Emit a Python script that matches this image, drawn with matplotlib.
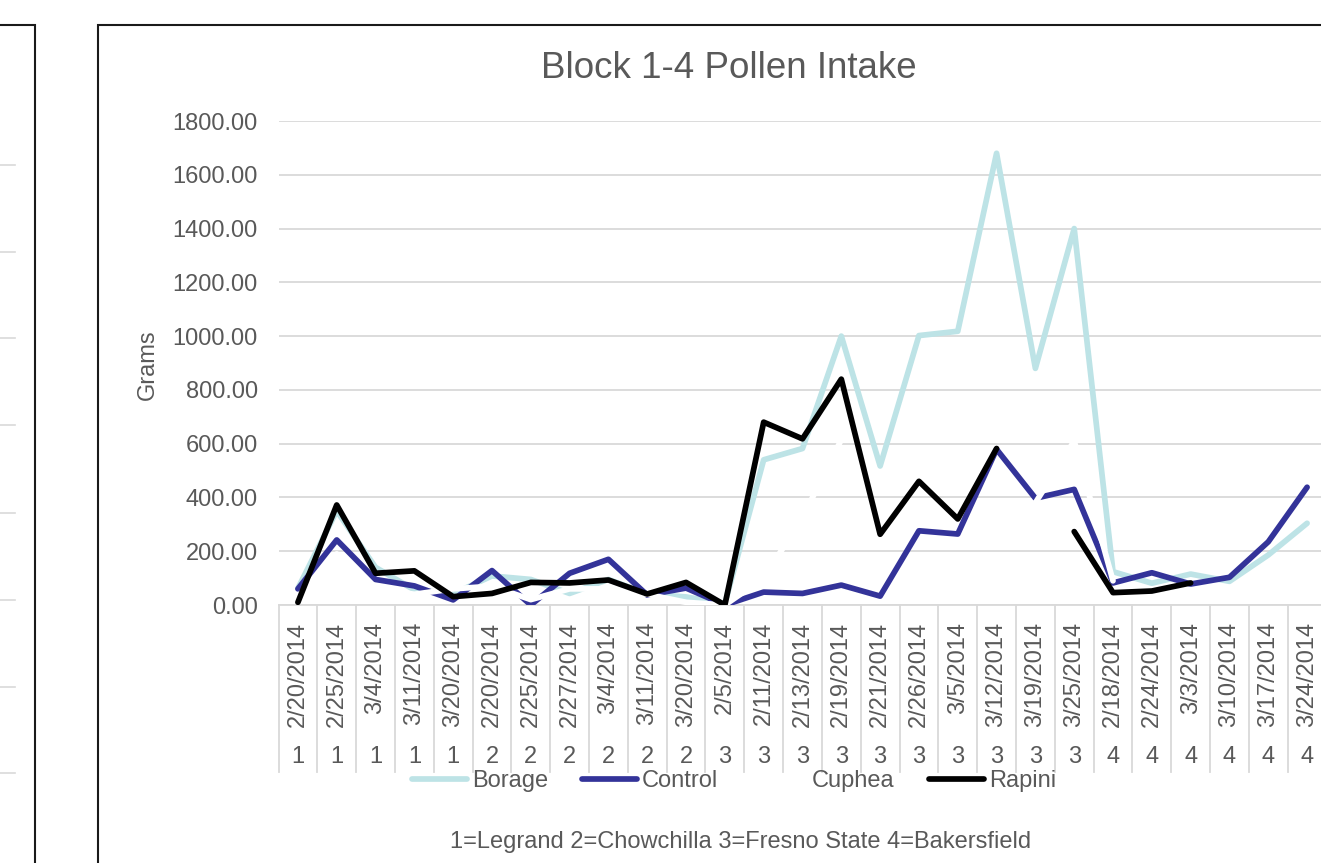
import numpy as np
import matplotlib
matplotlib.use("Agg")
import matplotlib.pyplot as plt
import matplotlib.transforms as mtransforms
from matplotlib.patches import Rectangle
from matplotlib.lines import Line2D

W, H = 1321, 863
plt.rcParams['font.family'] = ['Liberation Sans', 'DejaVu Sans']
TXT = '#595959'
GRID = '#d9d9d9'

dates = ['2/20/2014', '2/25/2014', '3/4/2014', '3/11/2014', '3/20/2014',
         '2/20/2014', '2/25/2014', '2/27/2014', '3/4/2014', '3/11/2014', '3/20/2014',
         '2/5/2014', '2/11/2014', '2/13/2014', '2/19/2014', '2/21/2014', '2/26/2014',
         '3/5/2014', '3/12/2014', '3/19/2014', '3/25/2014',
         '2/18/2014', '2/24/2014', '3/3/2014', '3/10/2014', '3/17/2014', '3/24/2014']
blocks = [1, 1, 1, 1, 1,
          2, 2, 2, 2, 2, 2,
          3, 3, 3, 3, 3, 3, 3, 3, 3, 3,
          4, 4, 4, 4, 4, 4]

nan = np.nan
borage = [62, 350, 140, 56, 42, 108, 95, 43, 95, 41, 30,
          5, 540, 582, 1000, 517, 1002, 1018, 1680, 880, 1400,
          124, 81, 115, 88, 186, 304]
control = [60, 242, 95, 71, 19, 128, 0, 118, 170, 37, 63,
           0, 48, 43, 74, 33, 276, 264, 579, 397, 430,
           82, 120, 78, 103, 235, 438]
cuphea = [30, 190, 60, 40, 60, 70, 20, 60, 60, 40, 10,
          0, 100, 325, 615, nan, nan, nan, nan, 380, 610,
          90, nan, nan, nan, nan, nan]
rapini = [10, 372, 118, 127, 31, 43, 84, 82, 93, 41, 84,
          0, 680, 618, 840, 263, 460, 320, 582, nan, 273,
          46, 52, 82, nan, nan, nan]

series = [('Borage', borage, '#BDE3E6'),
          ('Control', control, '#333399'),
          ('Cuphea', cuphea, '#FFFFFF'),
          ('Rapini', rapini, '#000000')]

fig = plt.figure(figsize=(W / 100, H / 100), dpi=100)
fig.patch.set_facecolor('white')

# chart borders (left neighbour chart is only partly in view)
fig.patches.append(Rectangle((-0.5, -0.2), 0.5 + 35 / W, 1.2 - 25 / H,
                             transform=fig.transFigure, fill=False,
                             ec='#1a1a1a', lw=1.5))
fig.patches.append(Rectangle((98 / W, -0.2), 1.5, 1.2 - 25 / H,
                             transform=fig.transFigure, fill=False,
                             ec='#1a1a1a', lw=1.5))
for yy in [165, 252, 338, 425, 513, 600, 687, 773]:
    fig.add_artist(Line2D([0, 15 / W], [1 - yy / H] * 2, color=GRID, lw=1.2))

ax = fig.add_axes([278.5 / W, 1 - 605 / H, 1048 / W, 484 / H])
x = np.arange(len(dates))
handles = []
for name, vals, col in series:
    ln, = ax.plot(x, vals, color=col, lw=4.1, solid_joinstyle='round',
                  solid_capstyle='round', label=name, zorder=3)
    handles.append(ln)

ax.set_xlim(-0.5, len(dates) - 0.5)
ax.set_ylim(0, 1800)
yt = np.arange(0, 1801, 200)
ax.set_yticks(yt)
ax.set_yticklabels([f'{v:.2f}' for v in yt], fontsize=17, color=TXT)
ax.tick_params(axis='y', length=0, pad=15)
ax.set_xticks([])
ax.grid(axis='y', color=GRID, lw=1.3)
ax.set_axisbelow(True)
for s in ['left', 'right', 'top']:
    ax.spines[s].set_visible(False)
ax.spines['bottom'].set_color(GRID)
ax.spines['bottom'].set_linewidth(1.3)

# two-level category axis: dates, then block numbers
tr = mtransforms.blended_transform_factory(ax.transData, ax.transAxes)
for k in range(len(dates) + 1):
    ax.plot([k - 0.5, k - 0.5], [0, -0.345], transform=tr, color=GRID,
            lw=1.3, clip_on=False)
for i, (d, b) in enumerate(zip(dates, blocks)):
    ax.text(i, -0.035, d, transform=tr, rotation=90, ha='center', va='top',
            fontsize=17, color=TXT)
    ax.text(i, -0.314, str(b), transform=tr, ha='center', va='center',
            fontsize=17, color=TXT)

fig.text(148 / W, 1 - 365 / H, 'Grams', rotation=90, ha='center',
         va='center', fontsize=17, color=TXT)
fig.text(728.5 / W, 1 - 68 / H, 'Block 1-4 Pollen Intake', ha='center',
         va='center', fontsize=26.5, color=TXT)

fig.legend(handles, [h.get_label() for h in handles], loc='center',
           bbox_to_anchor=(734 / W, 1 - 781 / H), ncol=4, frameon=False,
           handlelength=2.33, handletextpad=0.2, columnspacing=1.45,
           fontsize=17, labelcolor=TXT, borderpad=0)

fig.text(741 / W, 1 - 842 / H,
         '1=Legrand 2=Chowchilla 3=Fresno State 4=Bakersfield',
         ha='center', va='center', fontsize=17, color=TXT)

fig.savefig('out.png', dpi=100, facecolor='white')
